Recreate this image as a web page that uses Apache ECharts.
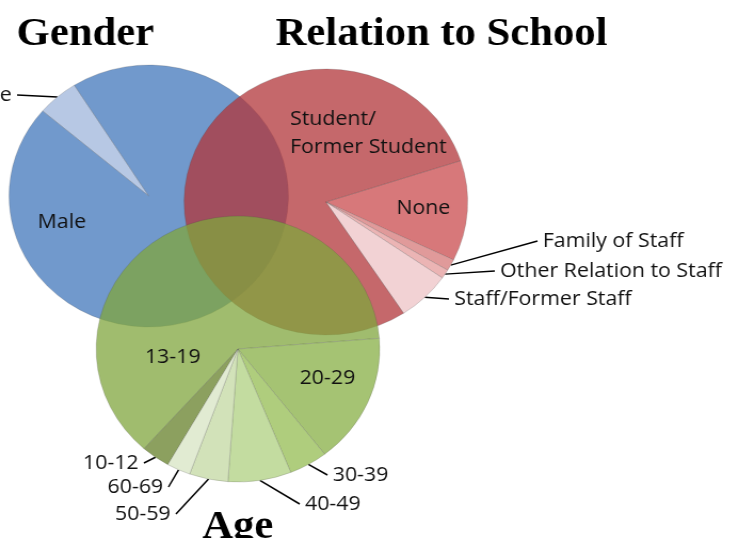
<!DOCTYPE html>
<html>
<head>
<meta charset="utf-8">
<script src="https://cdn.jsdelivr.net/npm/echarts@6/dist/echarts.min.js"></script>
<style>
  html, body { margin: 0; padding: 0; background: #fff; overflow: hidden; }
  /* the source picture is stretched a bit sideways, so the pies come out as ellipses */
  #chart { width: 693px; height: 538px; transform: scaleX(1.0664); transform-origin: 0 0; }
</style>
</head>
<body>
<div id="chart"></div>
<script>
// shares in percent
const genderNames = ["Female", "Male"];
const genderValues = [4.8, 95.2];

const relationNames = ["None", "Family of Staff", "Other Relation to Staff", "Staff/Former Staff", "Student/Former Student"];
const relationValues = [12.2, 1.4, 1.1, 6.1, 79.2];

const ageNames = ["10-12", "13-19", "20-29", "30-39", "40-49", "50-59", "60-69"];
const ageValues = [3.3, 62.2, 15.8, 4.4, 7.2, 4.4, 2.7];

const genderColors = ["#b7c8e4", "#7199cc"];
const relationColors = ["rgba(202,75,78,0.75)", "#e09a9a", "#ebb4b4", "#f2d2d4", "rgba(177,53,57,0.75)"];
const ageColors = ["#8ca05f", "rgba(128,165,61,0.75)", "#a5c373", "#afcd7d", "#c3dca0", "#d2e2b9", "#e1ebd2"];

// label anchors: [x, y, align, inside]
const genderSpots = {
  "Female": [11, 95, "right", false],
  "Male": [58, 222, "center", true],
};
const relationSpots = {
  "None": [397, 208, "center", true],
  "Family of Staff": [509, 241, "left", false],
  "Other Relation to Staff": [469, 271, "left", false],
  "Staff/Former Staff": [426, 299, "left", false],
  "Student/Former Student": [272, 133, "left", true],
};
const ageSpots = {
  "10-12": [130, 463, "right", false],
  "13-19": [162, 357, "center", true],
  "20-29": [307, 378, "center", true],
  "30-39": [312, 475, "left", false],
  "40-49": [286, 504, "left", false],
  "50-59": [160, 514, "right", false],
  "60-69": [153, 487, "right", false],
};

const labelFont = { fontFamily: "Open Sans", fontSize: 20, lineHeight: 28, color: "#111" };
const gap = 5;

function pieSeries(names, values, colors, spots, center, radius, startAngle) {
  return {
    type: "pie",
    center: center,
    radius: radius,
    startAngle: startAngle,
    clockwise: true,
    avoidLabelOverlap: false,
    silent: true,
    itemStyle: { borderColor: "rgba(70,70,70,0.3)", borderWidth: 0.7 },
    label: Object.assign({ show: true, padding: [2, gap] }, labelFont),
    labelLine: { show: true, length: 8, length2: 0, lineStyle: { color: "#000", width: 1.5 } },
    data: names.map((name, i) => ({
      name: name,
      value: values[i],
      itemStyle: { color: colors[i] },
      label: {
        position: spots[name][3] ? "inside" : "outside",
        padding: spots[name][3] ? 0 : [0, gap],
        formatter: (p) => p.name.replace("Student/", "Student/\n"),
      },
      labelLine: { show: !spots[name][3] },
    })),
    labelLayout: (params) => {
      const s = spots[names[params.dataIndex]];
      let x = s[0];
      if (!s[3]) x += s[2] === "left" ? -gap : gap;
      return { x: x, y: s[1], align: s[2], verticalAlign: "middle" };
    },
  };
}

const titleStyle = { fontFamily: "Liberation Serif", fontWeight: "bold", fontSize: 40, color: "#000" };

const chart = echarts.init(document.getElementById("chart"));
chart.setOption({
  animation: false,
  title: [
    { text: "Gender", left: 80, top: 15, textAlign: "center", padding: 0, textStyle: titleStyle },
    { text: "Relation to School", left: 414, top: 15, textAlign: "center", padding: 0, textStyle: titleStyle },
    { text: "Age", left: 223, top: 508, textAlign: "center", padding: 0, textStyle: titleStyle },
  ],
  series: [
    pieSeries(genderNames, genderValues, genderColors, genderSpots, [139.5, 196], 131, 139.5),
    pieSeries(relationNames, relationValues, relationColors, relationSpots, [305.6, 202], 133, 18.1),
    pieSeries(ageNames, ageValues, ageColors, ageSpots, [223.1, 349], 133, 240.4),
  ],
});
</script>
</body>
</html>
